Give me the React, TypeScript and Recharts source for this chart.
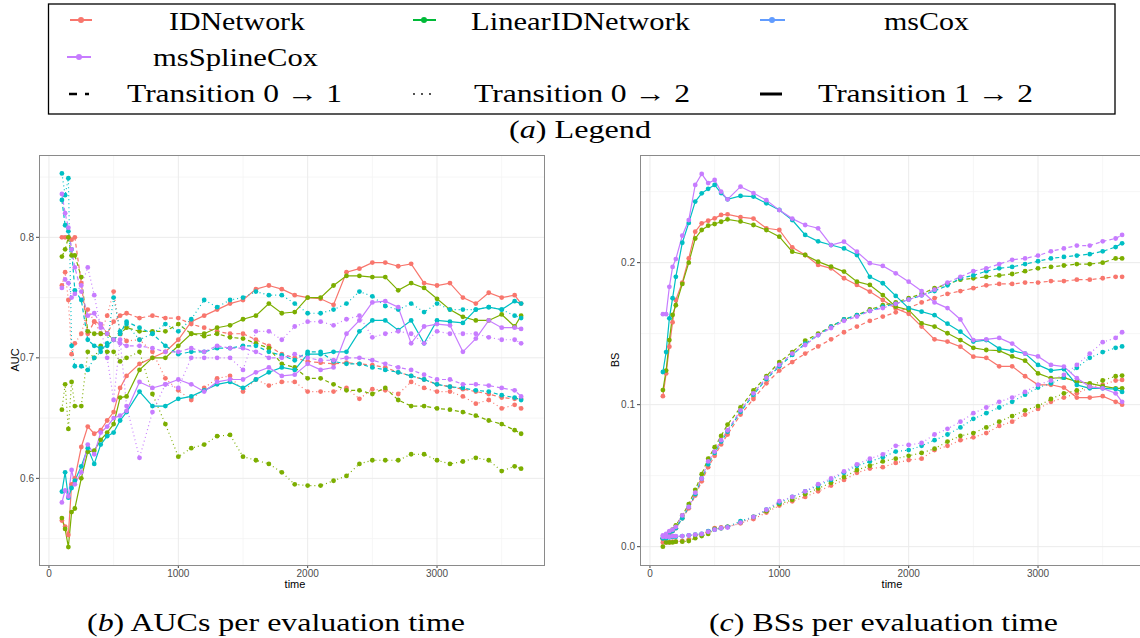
import React from "react";
import { LineChart, Line, XAxis, YAxis, CartesianGrid } from "recharts";

// ---------------- data ----------------
const TIMES = [100, 125, 150, 175, 200, 250, 300, 350, 400, 450, 500, 550, 600, 700, 800, 900, 1000, 1100, 1200, 1300, 1400, 1500, 1600, 1700, 1800, 1900, 2000, 2100, 2200, 2300, 2400, 2500, 2600, 2700, 2800, 2900, 3000, 3100, 3200, 3300, 3400, 3500, 3600, 3650];

// AUC
const AUC_ID_01 = [.800, .800, .800, .798, .800, .762, .720, .730, .728, .720, .730, .735, .737, .733, .735, .733, .733, .728, .725, .722, .720, .720, .715, .710, .703, .700, .697, .696, .695, .696, .695, .694, .692, .688, .685, .682, .678, .676, .674, .672, .670, .667, .666, .666];
const AUC_ID_02 = [.760, .771, .748, .703, .712, .720, .740, .730, .720, .735, .755, .720, .714, .715, .705, .683, .673, .665, .675, .683, .685, .672, .682, .677, .680, .680, .672, .672, .672, .675, .666, .674, .673, .670, .680, .675, .672, .672, .668, .662, .665, .658, .661, .658];
const AUC_ID_12 = [.565, .560, .553, .595, .600, .626, .643, .637, .640, .648, .655, .675, .685, .695, .700, .705, .715, .730, .735, .740, .745, .748, .757, .760, .757, .752, .750, .749, .744, .771, .774, .779, .779, .776, .778, .762, .760, .762, .750, .745, .754, .750, .752, .745];
const AUC_LIN_01 = [.784, .790, .800, .785, .785, .767, .722, .720, .720, .720, .715, .720, .725, .722, .722, .722, .728, .720, .718, .720, .717, .716, .712, .708, .695, .692, .683, .683, .678, .673, .673, .670, .675, .665, .660, .660, .658, .657, .655, .652, .648, .645, .640, .637];
const AUC_LIN_02 = [.657, .678, .641, .680, .660, .660, .705, .700, .710, .705, .705, .697, .700, .705, .670, .645, .618, .625, .628, .635, .636, .618, .615, .612, .605, .595, .594, .594, .598, .602, .612, .615, .615, .615, .620, .620, .615, .612, .614, .617, .615, .606, .610, .608];
const AUC_LIN_12 = [.567, .558, .543, .572, .575, .600, .622, .623, .632, .638, .645, .667, .668, .690, .700, .700, .710, .720, .720, .725, .727, .732, .735, .745, .737, .738, .750, .750, .760, .768, .768, .767, .767, .756, .762, .758, .749, .740, .734, .731, .731, .736, .726, .735];
const AUC_COX_01 = [.831, .810, .805, .790, .756, .748, .715, .710, .708, .710, .715, .720, .730, .725, .720, .710, .703, .705, .705, .708, .708, .710, .710, .705, .702, .698, .705, .705, .697, .695, .695, .692, .690, .688, .685, .682, .678, .676, .675, .673, .672, .669, .667, .665];
const AUC_COX_02 = [.853, .835, .849, .710, .693, .693, .690, .700, .705, .712, .750, .722, .728, .715, .720, .728, .722, .732, .748, .742, .748, .750, .755, .752, .752, .745, .737, .737, .740, .745, .755, .751, .743, .740, .745, .738, .745, .740, .740, .740, .742, .740, .735, .733];
const AUC_COX_12 = [.589, .605, .584, .592, .598, .610, .625, .612, .628, .635, .638, .648, .655, .672, .660, .660, .666, .668, .673, .678, .680, .675, .682, .688, .692, .690, .703, .703, .705, .705, .722, .731, .731, .723, .731, .712, .731, .730, .729, .740, .742, .740, .747, .745];
const AUC_SPL_01 = [.836, .820, .808, .790, .775, .755, .735, .737, .728, .720, .715, .712, .710, .710, .708, .705, .705, .708, .705, .710, .708, .708, .705, .700, .700, .703, .700, .698, .698, .700, .700, .698, .695, .692, .690, .686, .682, .682, .678, .678, .677, .675, .673, .668];
const AUC_SPL_02 = [.758, .765, .762, .750, .753, .760, .775, .752, .725, .700, .665, .715, .660, .617, .655, .678, .675, .700, .700, .700, .700, .690, .722, .722, .715, .726, .730, .730, .727, .732, .735, .717, .720, .722, .720, .712, .722, .720, .720, .720, .717, .715, .715, .712];
const AUC_SPL_12 = [.580, .590, .585, .607, .595, .605, .628, .620, .638, .643, .650, .652, .656, .680, .675, .678, .682, .678, .672, .680, .682, .682, .688, .692, .685, .686, .695, .690, .692, .720, .731, .746, .747, .742, .712, .726, .728, .727, .705, .716, .731, .725, .725, .724];

// BS
const BS_ID_01 = [.005, .007, .009, .011, .013, .020, .027, .036, .046, .056, .064, .072, .079, .093, .104, .115, .124, .130, .136, .141, .146, .151, .155, .159, .162, .165, .168, .172, .175, .178, .180, .182, .184, .185, .185, .186, .186, .187, .187, .188, .188, .189, .190, .190];
const BS_ID_02 = [.003, .003, .003, .0035, .0035, .004, .005, .008, .0087, .0106, .013, .0135, .014, .0165, .0195, .024, .029, .032, .035, .039, .043, .047, .052, .055, .056, .059, .061, .062, .068, .071, .075, .077, .080, .085, .088, .093, .097, .102, .105, .108, .112, .114, .117, .1174];
const BS_ID_12 = [.106, .122, .1408, .158, .1737, .186, .203, .2218, .2277, .2295, .2312, .2336, .234, .232, .231, .2242, .223, .2108, .2054, .1984, .196, .189, .1843, .1796, .1737, .1678, .164, .155, .146, .1444, .1408, .1338, .133, .127, .127, .120, .114, .114, .112, .105, .105, .106, .102, .100];
const BS_LIN_01 = [.006, .008, .010, .012, .015, .022, .030, .040, .051, .062, .070, .078, .086, .098, .110, .120, .130, .137, .145, .150, .155, .160, .163, .167, .170, .172, .175, .178, .182, .185, .188, .189, .190, .191, .192, .194, .196, .197, .198, .199, .199, .200, .203, .203];
const BS_LIN_02 = [.000, .003, .003, .003, .0035, .0035, .004, .006, .0075, .009, .0125, .013, .014, .017, .021, .025, .030, .033, .037, .041, .045, .049, .054, .057, .060, .062, .064, .066, .069, .074, .078, .080, .084, .088, .092, .096, .099, .104, .108, .110, .113, .117, .120, .1205];
const BS_LIN_12 = [.1103, .124, .1455, .1632, .170, .185, .200, .217, .223, .226, .2272, .2288, .2305, .229, .2265, .223, .2183, .2077, .2054, .2007, .1972, .1937, .1866, .1843, .1772, .169, .1667, .1573, .155, .1503, .1455, .140, .1385, .138, .134, .131, .122, .1186, .119, .1162, .115, .113, .1115, .1115];
const BS_COX_01 = [.006, .008, .010, .011, .013, .020, .028, .037, .048, .058, .066, .074, .081, .095, .107, .118, .127, .135, .143, .149, .155, .160, .163, .166, .169, .171, .174, .177, .180, .184, .189, .191, .194, .196, .197, .199, .201, .203, .204, .205, .206, .208, .211, .2136];
const BS_COX_02 = [.006, .006, .0065, .007, .007, .0075, .008, .0085, .009, .011, .012, .013, .014, .018, .021, .026, .031, .035, .039, .043, .047, .052, .057, .060, .063, .067, .068, .071, .075, .079, .084, .090, .094, .098, .102, .107, .112, .115, .119, .126, .133, .137, .140, .141];
const BS_COX_12 = [.123, .137, .1608, .175, .190, .214, .228, .243, .2488, .252, .2547, .249, .2446, .247, .2465, .2418, .2371, .230, .2195, .215, .2124, .210, .2054, .190, .1855, .1766, .168, .1655, .163, .157, .1514, .1444, .1455, .1395, .138, .136, .128, .124, .125, .1139, .1115, .1115, .111, .109];
const BS_SPL_01 = [.008, .009, .011, .012, .014, .022, .028, .038, .048, .060, .067, .075, .082, .096, .108, .119, .128, .136, .142, .149, .154, .159, .162, .166, .168, .171, .174, .177, .181, .186, .190, .194, .196, .199, .202, .203, .205, .208, .210, .212, .212, .215, .217, .2195];
const BS_SPL_02 = [.007, .007, .007, .0075, .0075, .0075, .008, .0085, .009, .0105, .012, .013, .0135, .017, .021, .026, .032, .035, .039, .044, .048, .053, .058, .062, .065, .071, .0716, .073, .079, .083, .088, .094, .098, .102, .105, .109, .114, .117, .121, .128, .136, .144, .147, .151];
const BS_SPL_12 = [.1637, .1637, .183, .197, .2025, .219, .230, .2547, .2625, .256, .2582, .250, .2446, .2535, .249, .244, .237, .231, .2265, .2242, .2124, .2148, .2077, .1996, .1977, .1925, .1866, .180, .172, .168, .160, .1455, .146, .147, .143, .136, .134, .128, .1268, .1186, .1127, .1115, .108, .102];

// ticks / grid values
const X_TICKS = [0, 1000, 2000, 3000];
const X_MINOR = [500, 1500, 2500, 3500];
const AUC_TICKS = [0.6, 0.7, 0.8];
const AUC_MINOR = [0.55, 0.65, 0.75, 0.85];
const BS_TICKS = [0, 0.1, 0.2];
const BS_MINOR = [0.05, 0.15, 0.25];

const MODELS = ["IDNetwork", "LinearIDNetwork", "msCox", "msSplineCox"];
const PLOT_COLORS = ["#F8766D", "#7CAE00", "#00BFC4", "#C77CFF"];
const LEGEND_COLORS = ["#F8766D", "#00BA38", "#619CFF", "#C77CFF"];
const TRANSITIONS = ["0 → 1", "0 → 2", "1 → 2"];
const DASHES = ["4 3", "1 3", undefined];

const AUC_VALUES = [
  [AUC_ID_01, AUC_ID_02, AUC_ID_12],
  [AUC_LIN_01, AUC_LIN_02, AUC_LIN_12],
  [AUC_COX_01, AUC_COX_02, AUC_COX_12],
  [AUC_SPL_01, AUC_SPL_02, AUC_SPL_12],
];
const BS_VALUES = [
  [BS_ID_01, BS_ID_02, BS_ID_12],
  [BS_LIN_01, BS_LIN_02, BS_LIN_12],
  [BS_COX_01, BS_COX_02, BS_COX_12],
  [BS_SPL_01, BS_SPL_02, BS_SPL_12],
];

function buildRows(values: number[][][]) {
  return TIMES.map((t, i) => {
    const row: any = { t };
    values.forEach((m, mi) => m.forEach((arr, ti) => { row[`s${mi}_${ti}`] = arr[i]; }));
    return row;
  });
}
const AUC_ROWS = buildRows(AUC_VALUES);
const BS_ROWS = buildRows(BS_VALUES);

const TICK_STYLE = { fontSize: 10, fill: "#4d4d4d", fontFamily: "Liberation Sans, Arial, sans-serif" };

function Panel(props: { rows: any[]; domain: [number, number]; ticks: number[]; minor: number[]; width: number; yWidth: number; right: number; tickFmt: (v: number) => string }) {
  const { rows, domain, ticks, minor, width, yWidth, right, tickFmt } = props;
  const lines: any[] = [];
  MODELS.forEach((m, mi) => {
    TRANSITIONS.forEach((tr, ti) => {
      const c = PLOT_COLORS[mi];
      lines.push(
        <Line
          key={`s${mi}_${ti}`}
          type="linear"
          dataKey={`s${mi}_${ti}`}
          stroke={c}
          strokeWidth={1.2}
          strokeDasharray={DASHES[ti]}
          dot={{ r: 2.4, fill: c, stroke: "none", strokeDasharray: "" }}
          activeDot={false}
          isAnimationActive={false}
        />
      );
    });
  });
  return (
    <LineChart width={width} height={460} data={rows} margin={{ top: 15, right, bottom: 0, left: 0 }}>
      <CartesianGrid stroke="#f4f4f4" strokeWidth={0.8} verticalValues={X_MINOR} horizontalValues={minor} />
      <CartesianGrid stroke="#ebebeb" strokeWidth={1} verticalValues={X_TICKS} horizontalValues={ticks} />
      <XAxis
        dataKey="t"
        type="number"
        domain={[-77, 3827]}
        ticks={X_TICKS}
        allowDataOverflow
        axisLine={false}
        tickLine={{ stroke: "#444" }}
        tickSize={3}
        tickMargin={2}
        height={35}
        tick={TICK_STYLE}
        interval={0}
      />
      <YAxis
        type="number"
        domain={domain}
        ticks={ticks}
        allowDataOverflow
        axisLine={false}
        tickLine={{ stroke: "#444" }}
        tickSize={3}
        tickMargin={2}
        width={yWidth}
        tick={TICK_STYLE}
        tickFormatter={tickFmt}
        interval={0}
      />
      {lines}
    </LineChart>
  );
}

const SERIF = "Liberation Serif, Times New Roman, serif";

export default function App() {
  return (
    <div style={{ position: "absolute", left: 0, top: 0, width: 1140, height: 638, overflow: "hidden", background: "#fff" }}>
      <div style={{ position: "absolute", left: 0, top: 140 }}>
        <Panel rows={AUC_ROWS} domain={[0.5281, 0.8683]} ticks={AUC_TICKS} minor={AUC_MINOR} width={560} yWidth={39} right={16} tickFmt={(v) => v.toFixed(1)} />
      </div>
      <div style={{ position: "absolute", left: 570, top: 140 }}>
        <Panel rows={BS_ROWS} domain={[-0.0129, 0.2758]} ticks={BS_TICKS} minor={BS_MINOR} width={580} yWidth={70} right={5} tickFmt={(v) => v.toFixed(1)} />
      </div>
      <svg width={1140} height={638} style={{ position: "absolute", left: 0, top: 0, pointerEvents: "none" }}>
        {/* panel borders */}
        <rect x={39.5} y={155.5} width={505} height={410} fill="none" stroke="#8a8a8a" strokeWidth={1} />
        <rect x={640.5} y={155.5} width={510} height={410} fill="none" stroke="#8a8a8a" strokeWidth={1} />
        {/* axis titles */}
        <g fontFamily="Liberation Sans, Arial, sans-serif" fontSize={11} fill="#000">
          <text transform="translate(19,360) rotate(-90)" textAnchor="middle">AUC</text>
          <text transform="translate(619,360) rotate(-90)" textAnchor="middle">BS</text>
          <text x={295} y={588} textAnchor="middle">time</text>
          <text x={892} y={588} textAnchor="middle">time</text>
        </g>
        {/* legend box */}
        <rect x={48.5} y={4} width={1066.5} height={110} fill="none" stroke="#000" strokeWidth={1.3} />
        <g fontFamily={SERIF} fontSize={25} fill="#000">
          {/* model keys */}
          <line x1={70} y1={20} x2={92} y2={20} stroke={LEGEND_COLORS[0]} strokeWidth={2} />
          <circle cx={81} cy={20} r={3} fill={LEGEND_COLORS[0]} />
          <text x={169} y={30} textLength={136} lengthAdjust="spacingAndGlyphs">{MODELS[0]}</text>
          <line x1={413} y1={20} x2={436} y2={20} stroke={LEGEND_COLORS[1]} strokeWidth={2} />
          <circle cx={424} cy={20} r={3} fill={LEGEND_COLORS[1]} />
          <text x={471} y={30} textLength={219} lengthAdjust="spacingAndGlyphs">{MODELS[1]}</text>
          <line x1={760} y1={20} x2={785} y2={20} stroke={LEGEND_COLORS[2]} strokeWidth={2} />
          <circle cx={772} cy={20} r={3} fill={LEGEND_COLORS[2]} />
          <text x={884} y={30} textLength={85} lengthAdjust="spacingAndGlyphs">{MODELS[2]}</text>
          <line x1={67} y1={57} x2={91} y2={57} stroke={LEGEND_COLORS[3]} strokeWidth={2} />
          <circle cx={79} cy={57} r={3} fill={LEGEND_COLORS[3]} />
          <text x={153} y={66} textLength={165} lengthAdjust="spacingAndGlyphs">{MODELS[3]}</text>
          {/* transition keys */}
          <line x1={69} y1={94} x2={77} y2={94} stroke="#000" strokeWidth={2.5} />
          <line x1={85} y1={94} x2={89} y2={94} stroke="#000" strokeWidth={2.5} />
          <text x={127} y={102} textLength={215} lengthAdjust="spacingAndGlyphs">{"Transition " + TRANSITIONS[0]}</text>
          <circle cx={414} cy={94} r={0.9} fill="#000" />
          <circle cx={422} cy={94} r={0.9} fill="#000" />
          <circle cx={430} cy={94} r={0.9} fill="#000" />
          <text x={474} y={102} textLength={216} lengthAdjust="spacingAndGlyphs">{"Transition " + TRANSITIONS[1]}</text>
          <line x1={760} y1={94} x2={782} y2={94} stroke="#000" strokeWidth={3} />
          <text x={818} y={102} textLength={215} lengthAdjust="spacingAndGlyphs">{"Transition " + TRANSITIONS[2]}</text>
          {/* captions */}
          <text x={509} y={138} textLength={142} lengthAdjust="spacingAndGlyphs">(<tspan fontStyle="italic">a</tspan>) Legend</text>
          <text x={87} y={631} textLength={378} lengthAdjust="spacingAndGlyphs">(<tspan fontStyle="italic">b</tspan>) AUCs per evaluation time</text>
          <text x={709} y={631} textLength={349} lengthAdjust="spacingAndGlyphs">(<tspan fontStyle="italic">c</tspan>) BSs per evaluation time</text>
        </g>
      </svg>
    </div>
  );
}
